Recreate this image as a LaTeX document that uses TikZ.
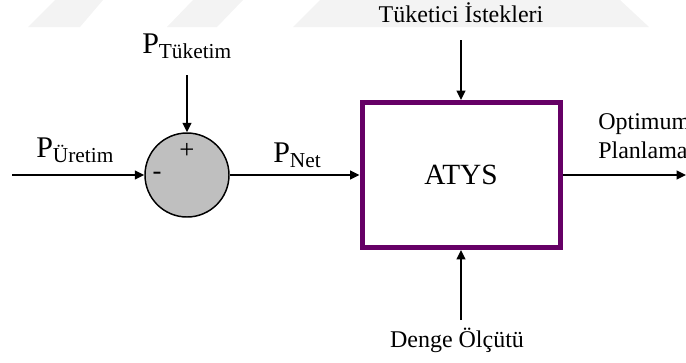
\documentclass[tikz,border=0pt]{standalone}
\usepackage{fontspec}
\setmainfont{Liberation Serif}
\usetikzlibrary{arrows.meta, positioning}
\definecolor{atyspurple}{RGB}{102,0,102}
\definecolor{sumgray}{RGB}{191,191,191}
\definecolor{wmgray}{RGB}{243,243,243}
\newcommand{\psig}[1]{P\raisebox{-3.75pt}{\fontsize{16}{16}\selectfont #1}}
\tikzset{
  sumnode/.style={circle, draw=black, fill=sumgray, minimum size=63pt,
    inner sep=0pt, line width=1.1pt},
  atysbox/.style={rectangle, draw=atyspurple, line width=3.75pt,
    minimum width=148.5pt, minimum height=108.75pt,
    font=\fontsize{22}{26}\selectfont},
  arrow/.style={-{Triangle[length=7pt,width=6.5pt]}, line width=1.2pt, color=black},
  sig/.style={font=\fontsize{22.5}{26}\selectfont, inner sep=0pt, anchor=base west},
  lbl/.style={font=\fontsize{18}{21.75}\selectfont, inner sep=0pt, anchor=base},
  sign/.style={font=\fontsize{20}{24}\selectfont, inner sep=0pt},
  wm/.style={fill=wmgray, draw=none}
}

\begin{document}
\begin{tikzpicture}[x=0.75pt, y=-0.75pt]
    \clip (0,0) rectangle (686,362);
    % watermark
    \fill[wm] (28,27) -- (55,0) -- (103,0) -- (80,27) -- cycle;
    \fill[wm] (167,27) -- (193,0) -- (243,0) -- (217,27) -- cycle;
    \fill[wm] (293,27) -- (320,0) -- (620,0) -- (649,27) -- cycle;

    \node[sumnode] (sum) at (187,175) {};
    \node[sign] (plus) at (187,151) {+};
    \node[sign] (minus) at (157,176) {-};
    \node[atysbox] (atys) at (461,175) {ATYS};

    \node[sig] (puretim) at (36,157) {\psig{Üretim}};
    \node[sig] (ptuketim) at (142,53) {\psig{Tüketim}};
    \node[sig] (pnet) at (273,162) {\psig{Net}};
    \node[lbl] (istek) at (461,22) {Tüketici İstekleri};
    \node[lbl] (denge) at (457,347) {Denge Ölçütü};
    \node[lbl, anchor=north west, align=left] (optimum) at (598,113) {Optimum\\Planlama};

    \coordinate (uin) at (12,175);
    \coordinate (tin) at (187,75);
    \coordinate (iin) at (461,40);
    \coordinate (din) at (461,320);
    \coordinate (out) at (686,175);
    \draw[arrow] (uin) -- (sum.west);
    \draw[arrow] (tin) -- (sum.north);
    \draw[arrow] (sum.east) -- (atys.west);
    \draw[arrow] (iin) -- (atys.north);
    \draw[arrow] (din) -- (atys.south);
    \draw[arrow] (atys.east) -- (out);
  \end{tikzpicture}
\end{document}
